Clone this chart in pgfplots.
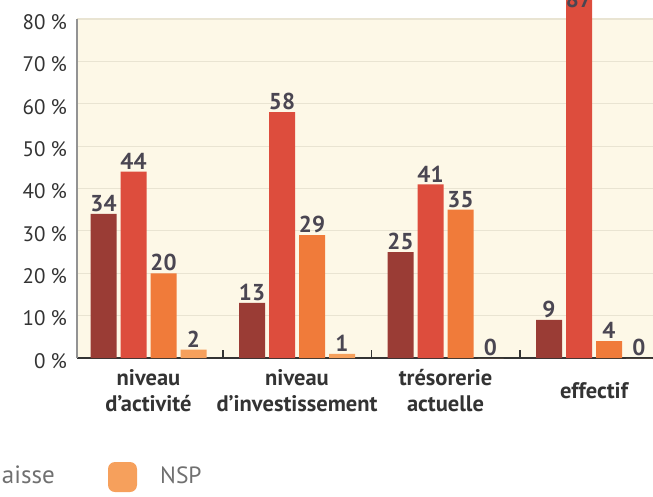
\documentclass[border=0pt]{standalone}
\usepackage{pgfplots}
\pgfplotsset{compat=1.18}
\usepackage{fontspec}
\setmainfont{PT Sans}

\definecolor{cdark}{HTML}{9A3C35}
\definecolor{cred}{HTML}{DD4D3D}
\definecolor{corange}{HTML}{F07B3A}
\definecolor{clight}{HTML}{F6A05C}
\definecolor{bgcream}{HTML}{FDF8E7}
\definecolor{gridc}{HTML}{E9E4D2}
\definecolor{valc}{HTML}{4A4652}
\definecolor{labc}{HTML}{333333}
\definecolor{legc}{HTML}{707070}

\begin{document}
\begin{tikzpicture}[x=1pt,y=1pt]
\begin{axis}[
    scale only axis,
    width=588.5pt, height=339pt,
    xmin=-0.4815, xmax=3.4815,
    ymin=0, ymax=80,
    ybar=4pt, bar width=26pt,
    clip=false,
    axis background/.style={fill=bgcream},
    axis x line=bottom, axis y line=left,
    x axis line style={-, draw=labc, line width=2pt},
    y axis line style={-, draw=gray!85, line width=1.8pt},
    /pgf/number format/assume math mode=true,
    ytick={0,10,...,80},
    yticklabel={\pgfmathprintnumber{\tick}\kern5pt\%},
    yticklabel style={font=\fontsize{21}{24}\selectfont, text=labc, inner sep=0pt, xshift=-10pt, yshift=-3pt},
    ytick style={draw=none},
    ymajorgrids, grid style={draw=gridc, line width=1.2pt},
    % group boundary ticks
    xtick={0.5,1.5,2.5},
    xticklabels={},
    xtick style={draw=labc, line width=1.5pt},
    major tick length=8pt, tick align=inside,
    % category labels at group centres
    extra x ticks={0,1,2,3},
    extra x tick labels={{niveau\\d'activité},{niveau\\d'investissement},{trésorerie\\actuelle},{effectif}},
    extra x tick style={major tick length=0pt, xmajorgrids=false, ymajorgrids=false,
      xticklabel style={font=\bfseries\fontsize{22.5}{26}\selectfont, text=labc, align=center, anchor=center, yshift=-33pt}},
    nodes near coords,
    nodes near coords style={font=\bfseries\fontsize{23}{26}\selectfont, text=valc, inner sep=2pt},
    coordinate style/.condition={y>80}{anchor=north, text=white},
]
\addplot[fill=cdark, draw=none] coordinates {(0,34) (1,13) (2,25) (3,9)};
\addplot[fill=cred, draw=none] coordinates {(0,44) (1,58) (2,41) (3,87)};
\addplot[fill=corange, draw=none] coordinates {(0,20) (1,29) (2,35) (3,4)};
\addplot[fill=clight, draw=none] coordinates {(0,2) (1,1) (2,0) (3,0)};
\end{axis}
% legend (partly cut off at the left edge, as in the reference)
\node[anchor=base east, inner sep=0pt, text=legc, font=\fontsize{25}{27}\selectfont] at (-22,-125) {aisse};
\fill[clight, rounded corners=7pt] (31,-134) rectangle (60,-104);
\node[anchor=base west, inner sep=0pt, text=legc, font=\fontsize{23.5}{26}\selectfont] at (83,-125) {NSP};
\pgfresetboundingbox
\useasboundingbox (-77,-138) rectangle (576,358);
\end{tikzpicture}
\end{document}
